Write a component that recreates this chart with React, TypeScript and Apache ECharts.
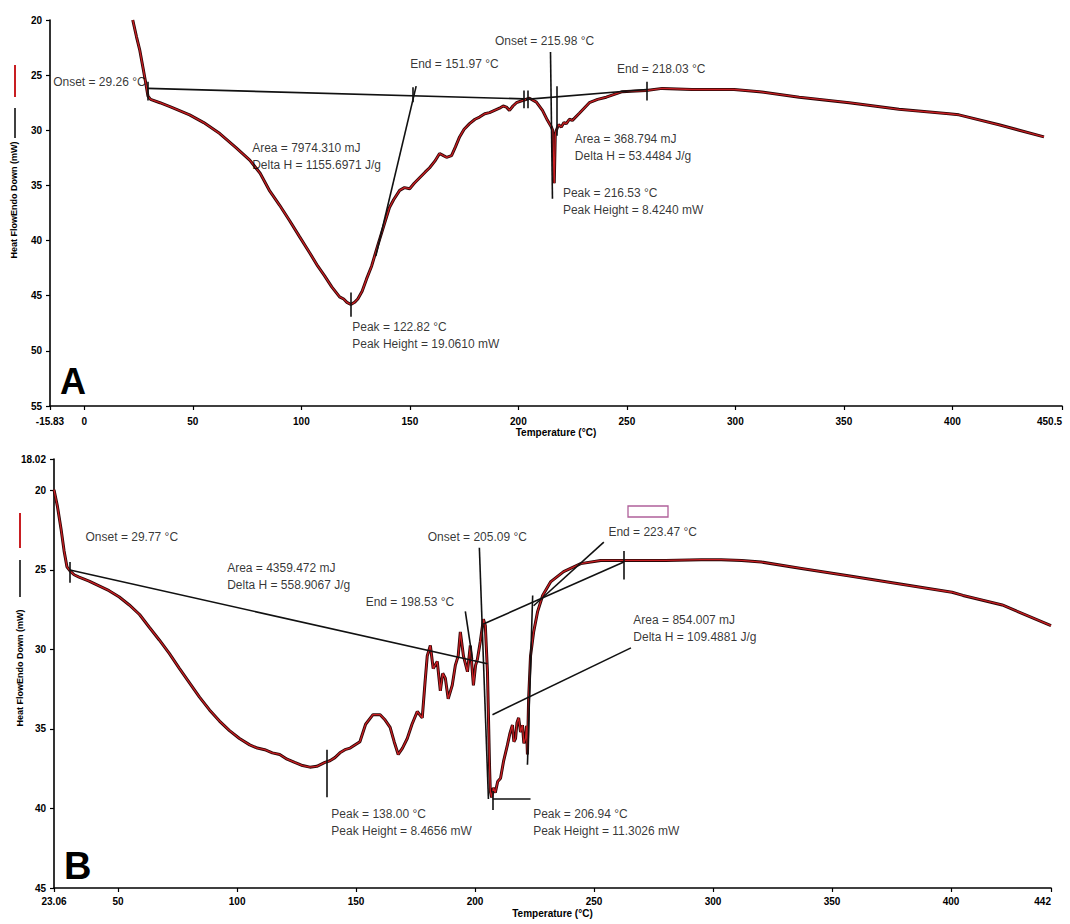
import React, { useEffect, useRef } from "react";
import * as echarts from "echarts";

// ---- Panel A: DSC heat flow (mW) vs temperature (°C) ----
const A_TEMP = [
  22.3, 24.0, 25.5, 27.0, 28.0, 28.8, 29.3, 30.5, 34.8, 40.0, 48.5, 55.0, 62.4, 70.0, 76.2, 81.0,
  85.4, 90.0, 94.6, 99.0, 103.8, 107.5, 110.7, 114.0, 117.6, 119.5, 121.0, 122.8, 124.5, 126.0,
  128.0, 130.0, 132.4, 135.1, 138.4, 140.6, 142.5, 145.3, 147.5, 149.9, 152.0, 154.5, 157.0,
  159.1, 161.5, 163.7, 165.5, 166.9, 169.2, 171.0, 172.9, 175.0, 177.5, 180.0, 182.1, 184.5,
  186.7, 189.0, 191.3, 193.0, 194.5, 195.9, 197.5, 199.1, 201.9, 205.1, 208.3, 211.1, 213.4,
  215.2, 215.8, 216.53, 217.0, 217.5, 218.5, 219.8, 221.0, 222.1, 223.5, 224.9, 228.1, 232.7,
  236.5, 240.5, 247.9, 252.0, 258.9, 266.3, 280.0, 289.3, 299.4, 311.0, 329.4, 352.4, 375.4,
  398.4, 403.0, 421.5, 442.2,
];
const A_HEAT = [
  20.0, 21.5, 22.7, 24.3, 25.4, 26.3, 26.9, 27.2, 27.5, 27.9, 28.6, 29.3, 30.3, 31.6, 32.7, 33.9,
  35.5, 36.8, 38.2, 39.6, 41.1, 42.3, 43.2, 44.2, 45.1, 45.3, 45.6, 45.8, 45.6, 45.3,
  44.6, 43.5, 42.3, 40.5, 38.4, 37.0, 36.3, 35.45, 35.2, 35.3, 34.8, 34.3, 33.8,
  33.4, 32.8, 32.1, 32.3, 32.45, 32.3, 31.5, 30.6, 29.9, 29.4, 29.0, 28.8, 28.5,
  28.4, 28.2, 28.0, 27.8, 27.9, 28.2, 27.8, 27.5, 27.3, 27.1, 27.45, 28.2, 29.1,
  29.7, 30.0, 34.8, 30.4, 30.0, 29.5, 29.7, 29.3, 29.4, 29.0, 29.1, 28.45, 27.5,
  27.2, 27.0, 26.5, 26.45, 26.4, 26.2, 26.3, 26.3, 26.3, 26.5, 27.0, 27.5, 28.1,
  28.5, 28.6, 29.5, 30.6,
];
// baselines, tangents and marker ticks: [t1, h1, t2, h2]
const A_GUIDES = [
  [29.26, 26.2, 202.5, 27.15],
  [203.5, 27.2, 259.0, 26.3],
  [29.26, 25.6, 29.26, 27.3],
  [151.3, 26.1, 151.3, 27.45],
  [202.4, 26.4, 202.4, 28.0],
  [204.2, 26.4, 204.2, 28.0],
  [214.8, 22.9, 215.7, 36.2],
  [217.9, 26.0, 217.9, 30.5],
  [259.0, 25.6, 259.0, 27.3],
  [152.9, 26.0, 134.3, 41.4],
  [122.82, 44.7, 122.82, 46.9],
];
const A_NOTES = [
  "Onset = 29.26 °C",
  "End = 151.97 °C",
  "Onset = 215.98 °C",
  "End = 218.03 °C",
  "Area = 368.794 mJ\nDelta H = 53.4484 J/g",
  "Peak = 216.53 °C\nPeak Height = 8.4240 mW",
  "Area = 7974.310 mJ\nDelta H = 1155.6971 J/g",
  "Peak = 122.82 °C\nPeak Height = 19.0610 mW",
];
const A_NOTE_AT = [
  [28.5, 25.6, "left"],
  [149.9, 24.0, "right"],
  [189.0, 21.9, "right"],
  [245.2, 24.4, "right"],
  [225.8, 31.6, "right"],
  [220.3, 36.5, "right"],
  [77.1, 32.4, "right"],
  [123.2, 48.6, "right"],
];
const A_X_TICKS = [-15.83, 0, 50, 100, 150, 200, 250, 300, 350, 400, 450.5];
const A_Y_TICKS = [20, 25, 30, 35, 40, 45, 50, 55];

// ---- Panel B ----
const B_TEMP = [
  23.06, 24.5, 26.0, 27.3, 28.5, 29.8, 31.5, 33.6, 37.8, 42.0, 46.2, 50.5, 54.7, 59.0, 63.1, 67.3,
  71.5, 75.8, 80.0, 84.2, 88.4, 92.6, 96.8, 101.0, 105.3, 108.5, 111.6, 114.8, 117.9, 121.0,
  124.2, 127.5, 130.6, 133.5, 136.9, 139.0, 141.1, 143.2, 145.3, 147.5, 151.6, 154.0, 157.1,
  160.1, 162.0, 164.3, 166.0, 167.7, 169.5, 171.5, 173.5, 175.7, 177.8, 179.0, 179.9, 181.2,
  182.4, 184.1, 185.4, 186.4, 187.5, 188.7, 190.4, 191.7, 192.9, 193.8, 195.1, 196.8, 198.0,
  199.3, 200.2, 201.0, 202.2, 203.5, 204.3, 205.2, 205.6, 206.1, 206.4, 206.94, 207.7, 208.5,
  209.5, 210.7, 212.0, 213.6, 214.6, 215.7, 216.3, 217.0, 217.6, 218.3, 219.1, 219.9, 220.5,
  221.2, 221.6, 222.0, 222.5, 223.3, 224.6, 226.3, 228.4, 231.7, 237.2, 244.4, 252.8, 262.5,
  280.0, 295.0, 303.4, 312.0, 320.3, 337.1, 358.2, 379.3, 400.4, 405.0, 421.5, 442.0,
];
const B_HEAT = [
  19.95, 21.0, 22.4, 23.8, 24.8, 25.06, 25.3, 25.45, 25.7, 26.0, 26.3, 26.7, 27.2, 27.8, 28.6, 29.4,
  30.25, 31.2, 32.1, 33.0, 33.8, 34.5, 35.1, 35.6, 36.0, 36.2, 36.3, 36.5, 36.6, 36.9,
  37.1, 37.3, 37.4, 37.35, 37.1, 37.0, 36.8, 36.5, 36.3, 36.2, 35.8, 34.7, 34.1,
  34.1, 34.4, 34.9, 35.8, 36.6, 36.2, 35.6, 34.7, 33.9, 34.3, 32.0, 30.4, 29.75,
  31.2, 30.75, 32.6, 31.5, 31.8, 33.1, 32.25, 31.0, 30.4, 28.9, 30.4, 31.4, 29.75,
  32.25, 31.0, 30.6, 29.5, 28.1, 28.5, 31.4, 34.1, 37.5, 38.9, 39.3, 38.7, 39.0,
  38.3, 38.1, 37.0, 36.0, 35.3, 34.75, 35.8, 35.6, 34.6, 34.3, 35.2, 34.75, 35.9,
  35.6, 34.8, 36.6, 33.1, 30.4, 28.9, 27.6, 26.6, 25.75, 25.1, 24.6, 24.4, 24.4,
  24.4, 24.35, 24.35, 24.4, 24.5, 24.9, 25.4, 25.9, 26.4, 26.6, 27.2, 28.5,
];
const B_GUIDES = [
  [29.77, 25.0, 205.2, 30.9],
  [29.77, 24.5, 29.77, 25.8],
  [195.9, 27.6, 198.9, 30.6],
  [201.8, 23.6, 205.6, 39.4],
  [207.3, 39.4, 223.3, 39.4],
  [207.3, 38.9, 207.3, 40.1],
  [203.5, 28.4, 262.5, 24.5],
  [262.5, 23.8, 262.5, 25.6],
  [224.6, 27.25, 254.1, 23.25],
  [224.2, 26.6, 222.0, 37.25],
  [207.3, 34.1, 265.5, 29.9],
  [137.7, 36.3, 137.7, 39.3],
];
const B_NOTES = [
  "Onset = 29.77 °C",
  "Area = 4359.472 mJ\nDelta H = 558.9067 J/g",
  "End = 198.53 °C",
  "Onset = 205.09 °C",
  "End = 223.47 °C",
  "Area = 854.007 mJ\nDelta H = 109.4881 J/g",
  "Peak = 138.00 °C\nPeak Height = 8.4656 mW",
  "Peak = 206.94 °C\nPeak Height = 11.3026 mW",
];
const B_NOTE_AT = [
  [36.1, 22.94, "right"],
  [95.6, 25.4, "right"],
  [153.8, 27.0, "right"],
  [179.9, 22.9, "right"],
  [255.8, 22.6, "right"],
  [266.3, 28.7, "right"],
  [139.4, 40.9, "right"],
  [224.2, 40.9, "right"],
];
const B_X_TICKS = [23.06, 50, 100, 150, 200, 250, 300, 350, 400, 442];
const B_Y_TICKS = [18.02, 20, 25, 30, 35, 40, 45];

const FONT = "'Liberation Sans', Arial, sans-serif";
const INK = "#000000";
const CURVE_RED = "#c81e22";

const zip = (xs: number[], ys: number[]) => xs.map((x, i) => [x, ys[i]]);

function curveSeries(idx: number, temp: number[], heat: number[]) {
  const data = zip(temp, heat);
  return [
    {
      type: "line",
      xAxisIndex: idx,
      yAxisIndex: idx,
      data,
      showSymbol: false,
      clip: false,
      lineStyle: { color: "#2a0606", width: 3 },
      z: 2,
    },
    {
      type: "line",
      xAxisIndex: idx,
      yAxisIndex: idx,
      data,
      showSymbol: false,
      clip: false,
      lineStyle: { color: CURVE_RED, width: 1.3 },
      z: 3,
    },
  ];
}

function guideSeries(idx: number, guides: number[][]) {
  return {
    type: "lines",
    coordinateSystem: "cartesian2d",
    xAxisIndex: idx,
    yAxisIndex: idx,
    polyline: false,
    silent: true,
    z: 4,
    lineStyle: { color: "#111111", width: 1.6, opacity: 1 },
    data: guides.map((g) => ({ coords: [[g[0], g[1]], [g[2], g[3]]] })),
  };
}

function noteSeries(idx: number, notes: string[], at: any[]) {
  return {
    type: "scatter",
    xAxisIndex: idx,
    yAxisIndex: idx,
    clip: false,
    silent: true,
    symbolSize: 1,
    itemStyle: { color: "rgba(0,0,0,0)" },
    z: 5,
    data: notes.map((text, i) => ({
      name: text,
      value: [at[i][0], at[i][1]],
      label: { position: at[i][2] },
    })),
    label: {
      show: true,
      distance: 0,
      formatter: (p: any) => p.name,
      color: INK,
      fontFamily: FONT,
      fontSize: 12,
      lineHeight: 17,
    },
  };
}

function xAxis(idx: number, min: number, max: number, ticks: number[], margin: number, gap: number) {
  return {
    type: "value",
    gridIndex: idx,
    min,
    max,
    name: "Temperature (°C)",
    nameLocation: "middle",
    nameGap: gap,
    nameTextStyle: { color: INK, fontFamily: FONT, fontSize: 10, fontWeight: "bold" },
    axisLine: { show: true, onZero: false, lineStyle: { color: INK, width: 1.6 } },
    axisTick: { show: true, length: 4, customValues: ticks, lineStyle: { color: INK, width: 1.2 } },
    axisLabel: {
      customValues: ticks,
      formatter: (v: number) => String(v),
      color: INK,
      fontFamily: FONT,
      fontSize: 10,
      fontWeight: "bold",
      margin,
      alignMaxLabel: "right",
    },
    splitLine: { show: false },
  };
}

function yAxis(idx: number, min: number, max: number, ticks: number[]) {
  return {
    type: "value",
    gridIndex: idx,
    min,
    max,
    inverse: true,
    axisLine: { show: true, onZero: false, lineStyle: { color: INK, width: 1.6 } },
    axisTick: { show: true, length: 4, customValues: ticks, lineStyle: { color: INK, width: 1.2 } },
    axisLabel: {
      customValues: ticks,
      formatter: (v: number) => String(v),
      color: INK,
      fontFamily: FONT,
      fontSize: 10,
      fontWeight: "bold",
      margin: 8,
    },
    splitLine: { show: false },
  };
}

function buildOption() {
  return {
    animation: false,
    backgroundColor: "#ffffff",
    grid: [
      { left: 50, top: 20, width: 1012, height: 386, outerBoundsMode: "none" },
      { left: 54, top: 459, width: 997, height: 429, outerBoundsMode: "none" },
    ],
    xAxis: [
      xAxis(0, -15.83, 450.5, A_X_TICKS, 10, 21),
      xAxis(1, 23.06, 442, B_X_TICKS, 8, 20),
    ],
    yAxis: [yAxis(0, 20, 55, A_Y_TICKS), yAxis(1, 18.02, 45, B_Y_TICKS)],
    series: [
      ...curveSeries(0, A_TEMP, A_HEAT),
      guideSeries(0, A_GUIDES),
      noteSeries(0, A_NOTES, A_NOTE_AT),
      ...curveSeries(1, B_TEMP, B_HEAT),
      guideSeries(1, B_GUIDES),
      noteSeries(1, B_NOTES, B_NOTE_AT),
    ],
    graphic: [
      // series key marks beside the y-axis titles
      { type: "line", shape: { x1: 15, y1: 65, x2: 15, y2: 97 }, style: { stroke: CURVE_RED, lineWidth: 2 } },
      { type: "line", shape: { x1: 15, y1: 108, x2: 15, y2: 138 }, style: { stroke: INK, lineWidth: 1.5 } },
      {
        type: "text",
        x: 14,
        y: 200,
        rotation: Math.PI / 2,
        style: {
          text: "Heat FlowEndo Down (mW)",
          align: "center",
          verticalAlign: "middle",
          fill: INK,
          font: `bold 9px ${FONT}`,
        },
      },
      { type: "line", shape: { x1: 20, y1: 513, x2: 20, y2: 548 }, style: { stroke: CURVE_RED, lineWidth: 2 } },
      { type: "line", shape: { x1: 20, y1: 560, x2: 20, y2: 597 }, style: { stroke: INK, lineWidth: 1.5 } },
      {
        type: "text",
        x: 20,
        y: 668,
        rotation: Math.PI / 2,
        style: {
          text: "Heat FlowEndo Down (mW)",
          align: "center",
          verticalAlign: "middle",
          fill: INK,
          font: `bold 9px ${FONT}`,
        },
      },
      // panel letters
      {
        type: "text",
        x: 60,
        y: 381,
        style: { text: "A", align: "left", verticalAlign: "middle", fill: "#000", font: `bold 36px ${FONT}` },
      },
      {
        type: "text",
        x: 64,
        y: 866,
        style: { text: "B", align: "left", verticalAlign: "middle", fill: "#000", font: `bold 38px ${FONT}` },
      },
      // small outlined box above the End = 223.47 °C note
      {
        type: "rect",
        shape: { x: 628, y: 506, width: 40, height: 11 },
        style: { fill: "none", stroke: "#b0609a", lineWidth: 1.3 },
      },
    ],
  };
}

export default function App() {
  const ref = useRef<HTMLDivElement>(null);
  useEffect(() => {
    if (!ref.current) return;
    const chart = echarts.init(ref.current, undefined, { renderer: "svg" });
    chart.setOption(buildOption() as any);
    return () => chart.dispose();
  }, []);
  return (
    <div
      ref={ref}
      style={{ position: "fixed", left: 0, top: 0, width: 1070, height: 924, background: "#fff" }}
    />
  );
}
